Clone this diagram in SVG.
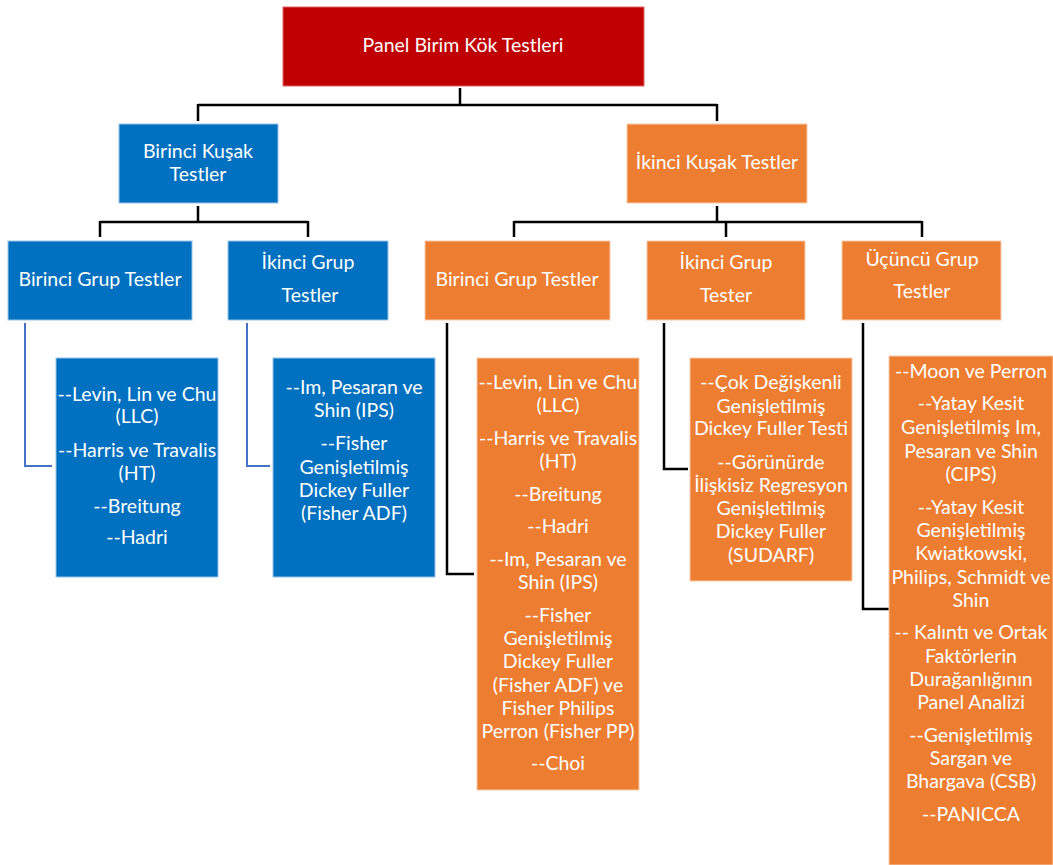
<svg xmlns="http://www.w3.org/2000/svg" width="1053" height="865" viewBox="0 0 1053 865">
<style>
.t{font-family:Lato,"Open Sans","Liberation Sans",sans-serif;font-size:19.5px;fill:#fff;text-anchor:middle}
.red{fill:#C00000;stroke:#E06666;stroke-width:1}
.blue{fill:#0070C0;stroke:#9DC3E6;stroke-width:1}
.org{fill:#ED7D31;stroke:#F8CBAD;stroke-width:1}
.k{fill:none;stroke:#000;stroke-width:2.5}
.b{fill:none;stroke:#4472C4;stroke-width:2}
</style>
<rect width="1053" height="865" fill="#fff"/>
<g id="connectors">
<path class="k" d="M460 88V105M198 105H717M198 104V121M717 104V121"/>
<path class="k" d="M198 206V222M100 222H308M100 221V237M308 221V237"/>
<path class="k" d="M717 206V222M514 222H922M514 221V237M726 221V237M922 221V237"/>
<path class="b" d="M25 323V466H52"/>
<path class="b" d="M247 323V466H270"/>
<path class="k" d="M447 323V574H474"/>
<path class="k" d="M664 323V469H688"/>
<path class="k" d="M863 323V609H889"/>
</g>
<g id="root"><rect class="red" x="283" y="7" width="361" height="79"/><text class="t" x="463" y="52">Panel Birim Kök Testleri</text></g>
<g id="birinci-kusak"><rect class="blue" x="119" y="124" width="159" height="79"/><text class="t" x="198" y="158">Birinci Kuşak</text><text class="t" x="198" y="181">Testler</text></g>
<g id="ikinci-kusak"><rect class="org" x="627" y="124" width="180" height="79"/><text class="t" x="717" y="169">İkinci Kuşak Testler</text></g>
<g id="b-birinci-grup"><rect class="blue" x="8" y="241" width="184" height="79"/><text class="t" x="100" y="286">Birinci Grup Testler</text></g>
<g id="b-ikinci-grup"><rect class="blue" x="228" y="241" width="160" height="79"/><text class="t" x="308" y="269">İkinci Grup</text><text class="t" x="310" y="302">Testler</text></g>
<g id="o-birinci-grup"><rect class="org" x="425" y="241" width="185" height="79"/><text class="t" x="517" y="286">Birinci Grup Testler</text></g>
<g id="o-ikinci-grup"><rect class="org" x="647" y="241" width="158" height="79"/><text class="t" x="726" y="269">İkinci Grup</text><text class="t" x="726" y="302">Tester</text></g>
<g id="o-ucuncu-grup"><rect class="org" x="842" y="241" width="159" height="79"/><text class="t" x="922" y="266">Üçüncü Grup</text><text class="t" x="922" y="298">Testler</text></g>
<g id="b-list1"><rect class="blue" x="56" y="358" width="162" height="219"/>
<text class="t" x="137" y="401">--Levin, Lin ve Chu</text><text class="t" x="137" y="423">(LLC)</text>
<text class="t" x="137" y="457">--Harris ve Travalis</text><text class="t" x="137" y="480">(HT)</text>
<text class="t" x="137" y="513">--Breitung</text><text class="t" x="137" y="544">--Hadri</text></g>
<g id="b-list2"><rect class="blue" x="273" y="358" width="162" height="219"/>
<text class="t" x="354" y="394">--Im, Pesaran ve</text><text class="t" x="354" y="417">Shin (IPS)</text>
<text class="t" x="354" y="450">--Fisher</text><text class="t" x="354" y="474">Genişletilmiş</text>
<text class="t" x="354" y="497">Dickey Fuller</text><text class="t" x="354" y="520">(Fisher ADF)</text></g>
<g id="o-list1"><rect class="org" x="477" y="358" width="162" height="432"/>
<text class="t" x="558" y="389">--Levin, Lin ve Chu</text><text class="t" x="558" y="412">(LLC)</text>
<text class="t" x="558" y="445">--Harris ve Travalis</text><text class="t" x="558" y="468">(HT)</text>
<text class="t" x="558" y="501">--Breitung</text><text class="t" x="558" y="533">--Hadri</text>
<text class="t" x="558" y="566">--Im, Pesaran ve</text><text class="t" x="558" y="589">Shin (IPS)</text>
<text class="t" x="558" y="622">--Fisher</text><text class="t" x="558" y="645">Genişletilmiş</text>
<text class="t" x="558" y="668">Dickey Fuller</text><text class="t" x="558" y="692">(Fisher ADF) ve</text>
<text class="t" x="558" y="715">Fisher Philips</text><text class="t" x="558" y="738">Perron (Fisher PP)</text>
<text class="t" x="558" y="770">--Choi</text></g>
<g id="o-list2"><rect class="org" x="690" y="358" width="162" height="223"/>
<text class="t" x="771" y="389">--Çok Değişkenli</text><text class="t" x="771" y="413">Genişletilmiş</text>
<text class="t" x="771" y="435">Dickey Fuller Testi</text><text class="t" x="771" y="469">--Görünürde</text>
<text class="t" x="771" y="492">İlişkisiz Regresyon</text><text class="t" x="771" y="515">Genişletilmiş</text>
<text class="t" x="771" y="538">Dickey Fuller</text><text class="t" x="771" y="562">(SUDARF)</text></g>
<g id="o-list3"><rect class="org" x="889" y="356" width="164" height="509"/>
<text class="t" x="971" y="378">--Moon ve Perron</text><text class="t" x="971" y="410">--Yatay Kesit</text>
<text class="t" x="971" y="434">Genişletilmiş Im,</text><text class="t" x="971" y="458">Pesaran ve Shin</text>
<text class="t" x="971" y="481">(CIPS)</text><text class="t" x="971" y="514">--Yatay Kesit</text>
<text class="t" x="971" y="537">Genişletilmiş</text><text class="t" x="971" y="560">Kwiatkowski,</text>
<text class="t" x="971" y="584">Philips, Schmidt ve</text><text class="t" x="971" y="607">Shin</text>
<text class="t" x="971" y="639">-- Kalıntı ve Ortak</text><text class="t" x="971" y="663">Faktörlerin</text>
<text class="t" x="971" y="686">Durağanlığının</text><text class="t" x="971" y="709">Panel Analizi</text>
<text class="t" x="971" y="742">--Genişletilmiş</text><text class="t" x="971" y="765">Sargan ve</text>
<text class="t" x="971" y="788">Bhargava (CSB)</text><text class="t" x="971" y="821">--PANICCA</text></g>
</svg>
